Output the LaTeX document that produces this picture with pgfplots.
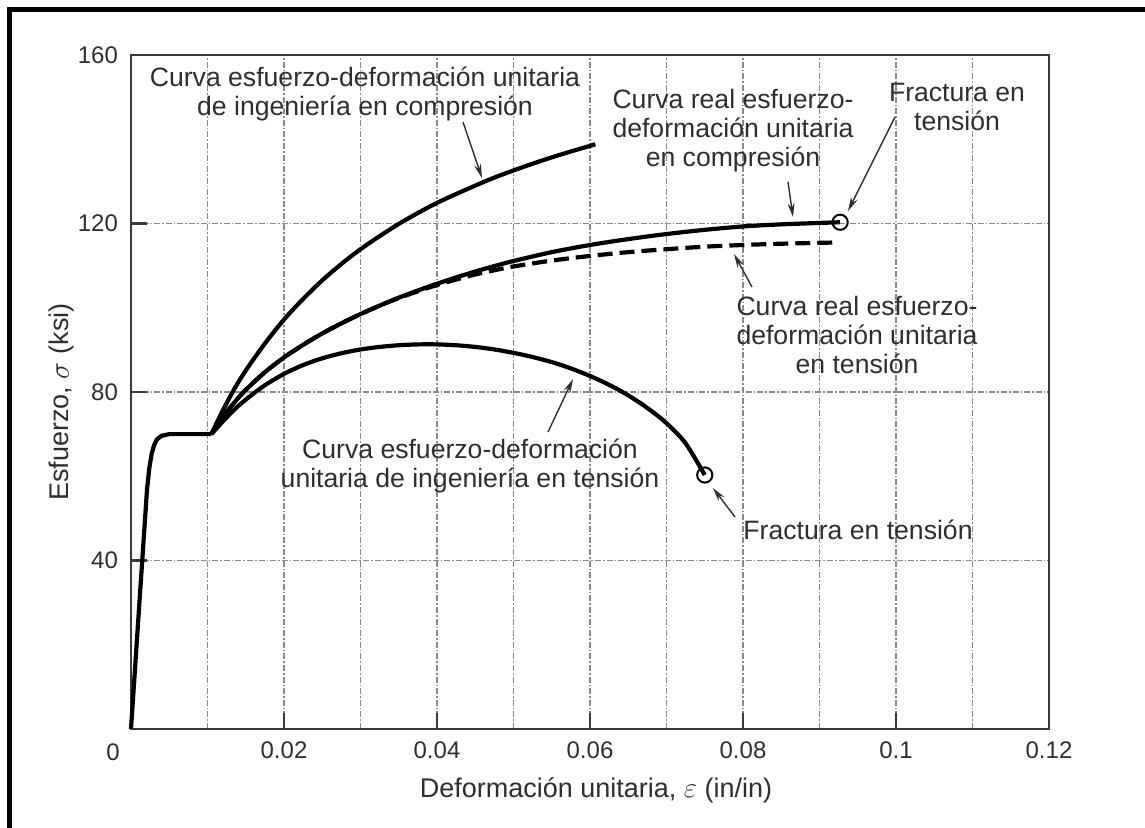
\documentclass[border=0pt]{standalone}
\usepackage{pgfplots}
\pgfplotsset{compat=1.18}
\usepackage{fontspec}
\setmainfont{Liberation Sans}
\usetikzlibrary{arrows.meta}
\definecolor{txt}{HTML}{2E2E2E}
\definecolor{axc}{HTML}{3A3A3A}
\definecolor{gridc}{HTML}{8A8A8A}
\begin{document}
\begin{tikzpicture}
\useasboundingbox (0,0) rectangle (572.5pt,413.5pt);
\begin{axis}[
  at={(65.5pt,49pt)}, anchor=south west,
  scale only axis, width=459pt, height=337pt,
  xmin=0, xmax=0.12, ymin=0, ymax=160,
  xtick={0.02,0.04,0.06,0.08,0.1,0.12},
  xticklabels={0.02,0.04,0.06,0.08,0.1,0.12},
  minor xtick={0.01,0.03,0.05,0.07,0.09,0.11},
  ytick={40,80,120,160},
  yticklabels={40,80,120,160},
  /pgf/number format/assume math mode=true,
  tick pos=left,
  tick align=inside,
  major tick length=8pt,
  minor tick length=0pt,
  tick style={axc, line width=1.2pt},
  grid=both,
  major grid style={gridc, line width=0.6pt, dash pattern=on 3pt off 1pt on 0.8pt off 1pt},
  minor grid style={gridc, line width=0.6pt, dash pattern=on 3pt off 1pt on 0.8pt off 1pt},
  axis line style={axc, line width=1.4pt},
  ticklabel style={font=\fontsize{12}{14}\selectfont, text=txt},
  yticklabel style={xshift=-3pt},
  xticklabel style={yshift=-3pt},
  ylabel={Esfuerzo, $\sigma$ (ksi)},
  ylabel style={font=\fontsize{13.5}{15}\selectfont, text=txt, inner sep=0pt, at={(rel axis cs:0,0.5)}, anchor=center, yshift=34.5pt, xshift=-5pt},
  clip=false,
]
% elastic + plateau
\addplot[black, line width=2.1pt, line join=round] coordinates {
(0,0) (0.0011,30) (0.0021,57) (0.0024,62) (0.0027,65.3) (0.0030,67.3) (0.0034,68.8) (0.0040,69.6) (0.0050,70) (0.0105,70)};
% engineering compression
\addplot[black, line width=2.1pt, smooth] coordinates {
(0.0105,70) (0.012,75.6) (0.0135,80.7) (0.015,85.1) (0.0175,91.5) (0.02,97.2) (0.0225,102.1) (0.025,106.5) (0.0275,110.4) (0.03,113.9) (0.0325,117) (0.035,119.9) (0.0375,122.5) (0.04,124.9) (0.0425,127) (0.045,129) (0.0475,130.9) (0.05,132.6) (0.0525,134.2) (0.055,135.7) (0.0575,137.1) (0.0607,138.8)};
% true tension (dashed)
\addplot[black, line width=2.1pt, dash pattern=on 7.5pt off 3.5pt, smooth] coordinates {
(0.0105,70) (0.012,74) (0.0135,77.5) (0.015,80.5) (0.0175,84.7) (0.02,88.2) (0.0225,91.2) (0.025,93.9) (0.0275,96.3) (0.03,98.5) (0.0325,100.5) (0.035,102.3) (0.0375,103.9) (0.04,105.4) (0.0425,106.7) (0.045,107.9) (0.0475,108.9) (0.05,109.8) (0.055,111.2) (0.06,112.3) (0.065,113.2) (0.07,113.9) (0.075,114.5) (0.08,114.9) (0.085,115.2) (0.0923,115.5)};
% true compression
\addplot[black, line width=2.1pt, smooth] coordinates {
(0.0105,70) (0.012,74) (0.0135,77.5) (0.015,80.5) (0.0175,84.7) (0.02,88.2) (0.0225,91.2) (0.025,93.9) (0.0275,96.3) (0.03,98.5) (0.0325,100.5) (0.035,102.4) (0.0375,104.1) (0.04,105.7) (0.0425,107.2) (0.045,108.6) (0.0475,109.9) (0.05,111.1) (0.055,113.2) (0.06,114.9) (0.065,116.3) (0.07,117.5) (0.075,118.5) (0.08,119.3) (0.085,119.8) (0.0927,120.3)};
% engineering tension
\addplot[black, line width=2.1pt, smooth] coordinates {
(0.0105,70) (0.012,73) (0.0135,75.8) (0.015,78.2) (0.0175,81.6) (0.02,84.3) (0.0225,86.4) (0.025,88) (0.0275,89.2) (0.03,90.1) (0.0325,90.7) (0.035,91.1) (0.0375,91.3) (0.04,91.3) (0.0425,91.1) (0.045,90.7) (0.0475,90.1) (0.05,89.3) (0.0525,88.3) (0.055,87.1) (0.0575,85.6) (0.06,83.8) (0.0625,81.7) (0.065,79.2) (0.0675,76.2) (0.07,72.6) (0.0725,67.8) (0.075,60.3)};
% fracture points
\addplot[only marks, mark=o, mark size=3.8pt, mark options={line width=1pt, fill=white, draw=black}] coordinates {(0.0927,120.3) (0.075,60.3)};
\end{axis}
\begin{scope}[shift={(0pt,413.5pt)}, x=0.5pt, y=-0.5pt]
\draw[line width=2.5pt] (9.5,840) -- (9.5,10) -- (1160,10);
\tikzset{ann/.style={align=center, font=\fontsize{13.3}{14.5}\selectfont, text=txt, inner sep=0pt},
         ar/.style={-{Stealth[length=7pt,width=3.5pt]}, line width=0.7pt, draw=txt}}
\node[text=txt, font=\fontsize{12}{14}\selectfont] at (113,752) {0};
\node[ann] at (365,94) {Curva esfuerzo-deformación unitaria\\de ingeniería en compresión};
\node[ann] at (733,131) {Curva real esfuerzo-\\deformación unitaria\\en compresión};
\node[ann] at (957,107) {Fractura en\\tensión};
\node[ann] at (857,335) {Curva real esfuerzo-\\deformación unitaria\\en tensión};
\node[ann] at (470,466) {Curva esfuerzo-deformación\\unitaria de ingeniería en tensión};
\node[ann] at (858,530) {Fractura en tensión};
\node[ann, font=\fontsize{13.5}{15}\selectfont] at (596,790) {Deformación unitaria, $\varepsilon$ (in/in)};
\draw[ar] (463,122) -- (482,178);
\draw[ar] (788,182) -- (793,217);
\draw[ar] (895,117) -- (848,211);
\draw[ar] (752,287) -- (734,254);
\draw[ar] (548,432) -- (573,379);
\draw[ar] (735,517) -- (713,488);
\end{scope}
\end{tikzpicture}
\end{document}
